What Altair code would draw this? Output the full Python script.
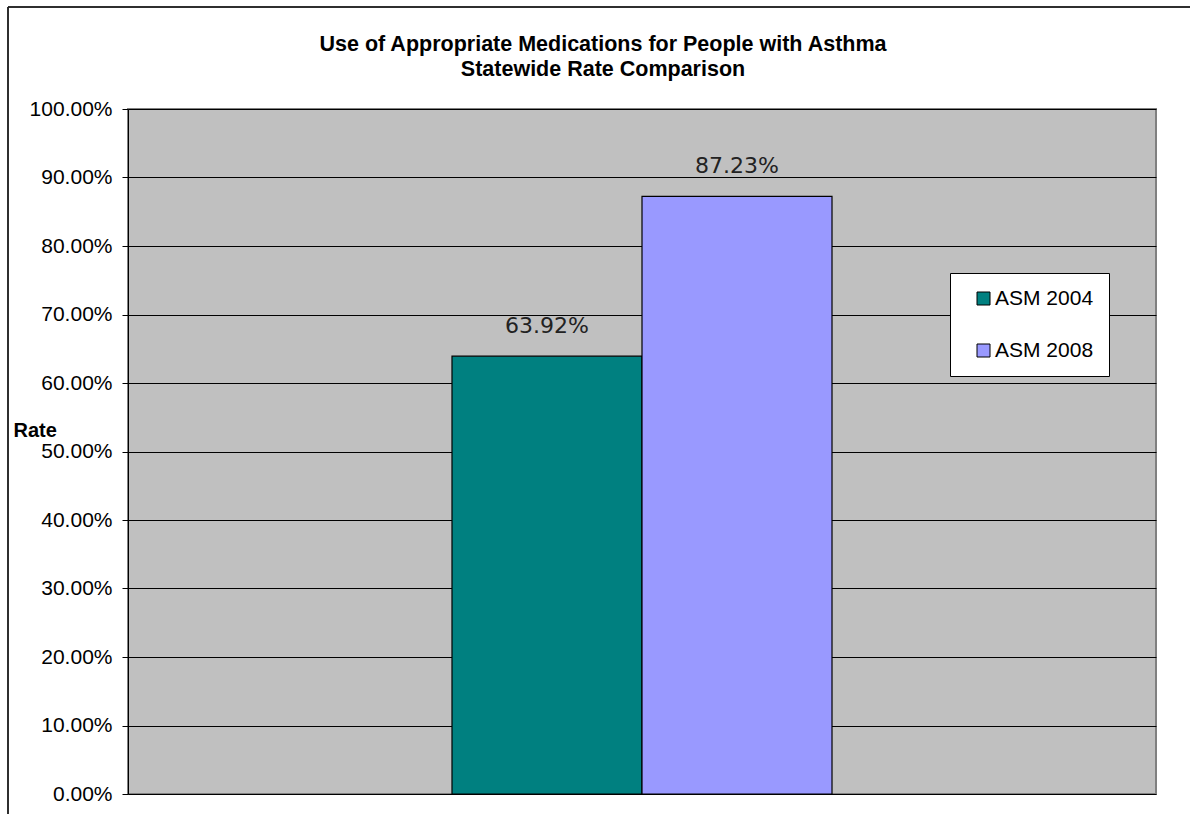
import altair as alt
import pandas as pd

# Statewide asthma medication rates
series = ["ASM 2004", "ASM 2008"]
rates = [0.6392, 0.8723]
colors = ["#008080", "#9999FF"]
y_ticks = [0.0, 0.1, 0.2, 0.3, 0.4, 0.5, 0.6, 0.7, 0.8, 0.9, 1.0]

df = pd.DataFrame({"group": ["Statewide"] * len(series), "series": series, "rate": rates})

FONT = "Liberation Sans"

x_enc = alt.X("group:N", axis=None, scale=alt.Scale(paddingInner=0, paddingOuter=0.8526))
xoff_enc = alt.XOffset("series:N", scale=alt.Scale(paddingInner=0, paddingOuter=0), sort=series)
y_enc = alt.Y(
    "rate:Q",
    scale=alt.Scale(domain=[0, 1], nice=False),
    axis=alt.Axis(
        values=y_ticks,
        format=".2%",
        title="Rate",
        titleAngle=0,
        titleX=-115,
        titleY=321,
        titleAlign="left",
        titleBaseline="middle",
        titleFont=FONT,
        titleFontSize=20,
        titleFontWeight="bold",
        titleColor="black",
        labelFont=FONT,
        labelFontSize=21,
        labelColor="black",
        labelPadding=10,
        tickSize=6,
        tickColor="black",
        domainColor="black",
        grid=True,
        gridColor="black",
        gridOpacity=1,
        gridWidth=1,
    ),
)

bars = alt.Chart(df).mark_bar(stroke="black", strokeWidth=1.2).encode(
    x=x_enc,
    xOffset=xoff_enc,
    y=y_enc,
    color=alt.Color(
        "series:N",
        scale=alt.Scale(domain=series, range=colors),
        legend=alt.Legend(
            title=None,
            orient="none",
            legendX=822,
            legendY=164,
            fillColor="white",
            strokeColor="black",
            padding=15,
            symbolOffset=8,
            symbolType="square",
            symbolSize=169,
            symbolStrokeColor="black",
            symbolStrokeWidth=1,
            labelFont=FONT,
            labelFontSize=21,
            labelColor="black",
            labelOffset=1,
            rowPadding=30,
        ),
    ),
)

labels = alt.Chart(df).mark_text(
    font="DejaVu Sans", fontSize=22, color="#222222", baseline="alphabetic", dy=-23
).encode(
    x=x_enc,
    xOffset=xoff_enc,
    y=alt.Y("rate:Q"),
    text=alt.Text("rate:Q", format=".2%"),
)

# frame lines along the left and top of the chart canvas
frame_left = alt.Chart(df).mark_rule(color="#222222", strokeWidth=1.5).encode(
    x=alt.value(-120), y=alt.value(-102), y2=alt.value(710)
)
frame_top = alt.Chart(df).mark_rule(color="#222222", strokeWidth=1.5).encode(
    x=alt.value(-120), x2=alt.value(1070), y=alt.value(-102)
)

chart = (
    alt.layer(bars, labels, frame_left, frame_top)
    .properties(
        width=1028,
        height=685,
        autosize=alt.AutoSizeParams(type="none"),
        padding={"left": 128, "top": 109, "right": 34, "bottom": 20},
        title=alt.TitleParams(
            text=["Use of Appropriate Medications for People with Asthma", "Statewide Rate Comparison"],
            font=FONT,
            fontSize=21.5,
            fontWeight="bold",
            color="black",
            anchor="middle",
            frame="group",
            lineHeight=25,
            offset=29,
            dx=-39,
            dy=103,
        ),
        background="white",
    )
    .configure_view(fill="#C0C0C0", stroke="#808080", strokeWidth=2)
)

chart.save("out.html", embed_options={"renderer": "svg", "actions": False})
